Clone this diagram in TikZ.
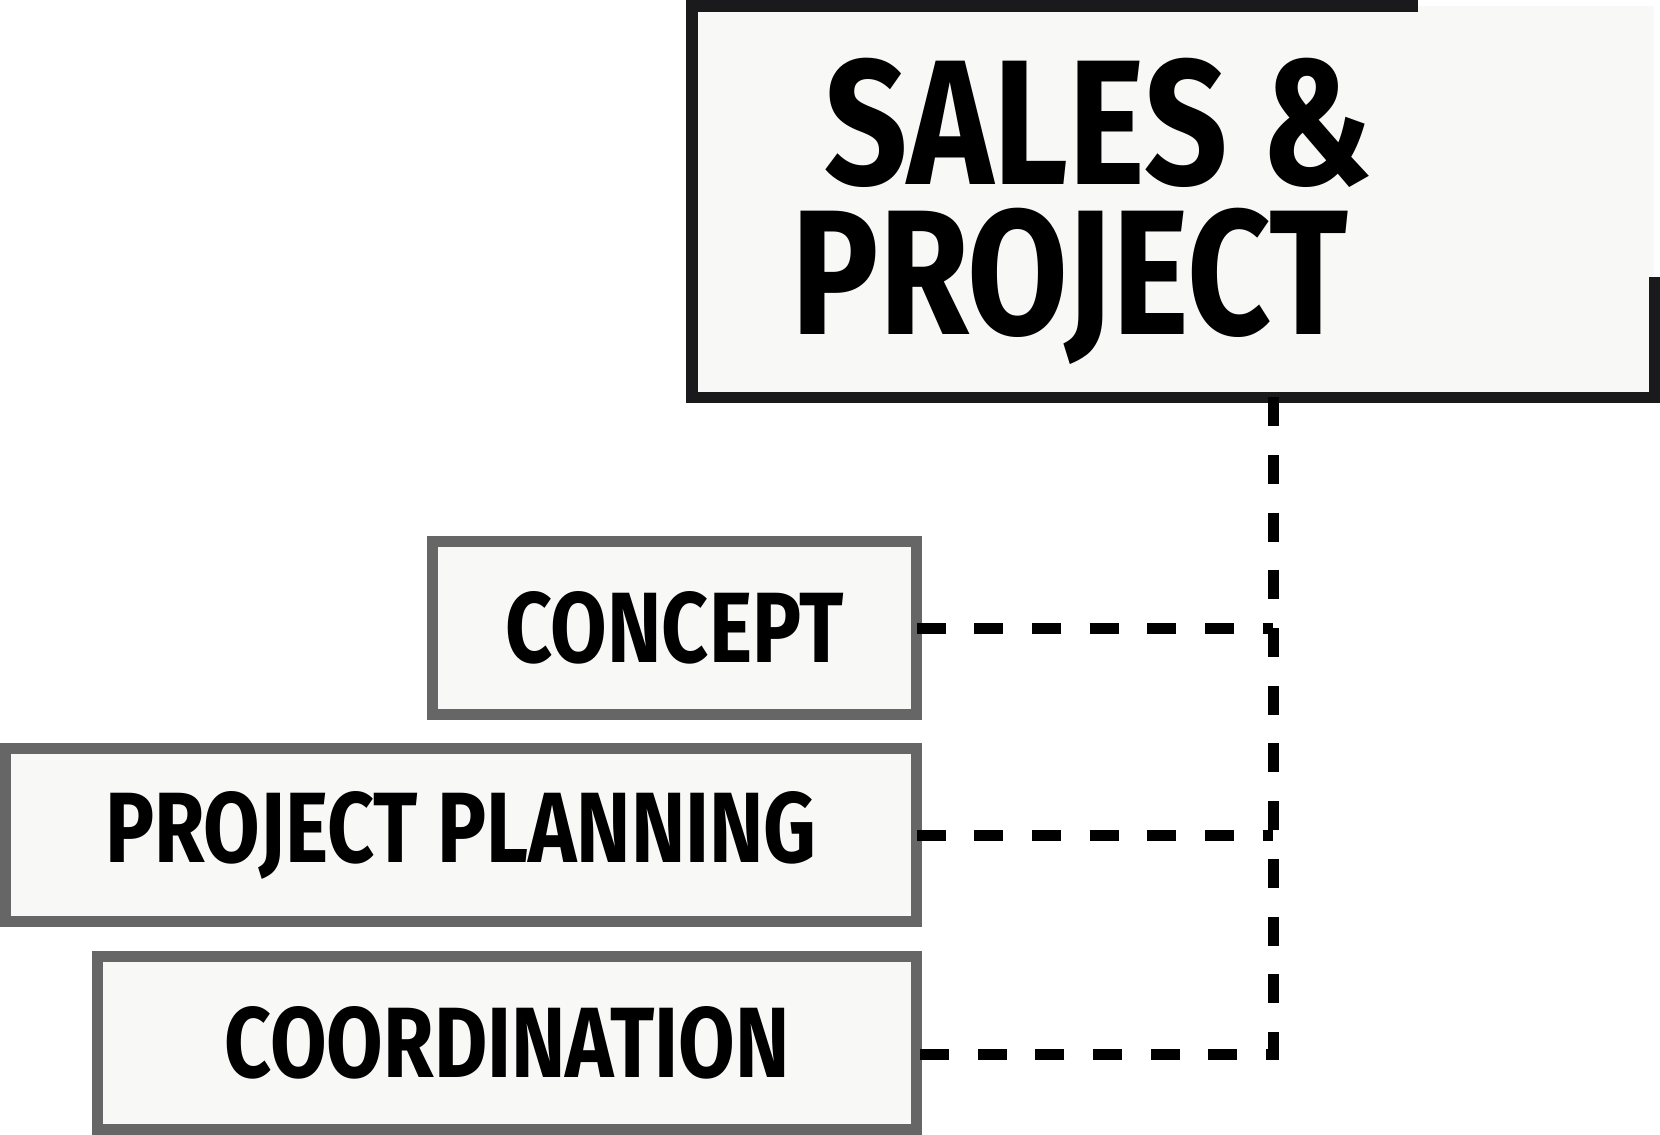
\documentclass[tikz,border=0pt]{standalone}
\definecolor{myframe}{RGB}{26, 26, 28}
\definecolor{mygrey}{RGB}{102, 102, 102}
\definecolor{mypaper}{RGB}{248, 248, 246}
\usepackage{fontspec}
\newfontfamily\boxfont[FakeStretch=0.82]{Fira Sans}
\usepackage{tikz}
\usetikzlibrary{calc}
\tikzset{every picture/.style={line width=0.75pt}}
\tikzset{
  titlebox/.style={fill=mypaper, inner sep=0pt, outer sep=0pt, minimum width=481.25pt, minimum height=195.75pt},
  titleframe/.style={draw=myframe, line width=5.75pt},
  titletext/.style={inner sep=0pt, anchor=base, font=\boxfont\bfseries\fontsize{89}{75}\selectfont},
  stepbox/.style={draw=mygrey, line width=5.5pt, fill=mypaper, inner sep=0pt, outer sep=0pt, minimum height=86.5pt, font=\boxfont\bfseries\fontsize{50}{60}\selectfont},
  link/.style={draw=black, line width=5.5pt, dash pattern=on 14.5pt off 14.35pt}
}

\begin{document}
\begin{tikzpicture}[x=0.5pt,y=0.5pt,yscale=-1,xscale=1]
\useasboundingbox (0,0) rectangle (1660,1135);

%Shape: Rectangle [id:title]
\node [titlebox] (title) at (1173,201.5) {};
%Shape: Open frame round the title
\draw [titleframe] ($(title.north west)!0.755!(title.north east)$) -- (title.north west) -- (title.south west) -- (title.south east) -- ($(title.south east)!0.307!(title.north east)$);
% Text Node
\node [titletext] (sales) at (1099,184) {SALES \&};
% Text Node
\node [titletext] (project) at (1070,334.5) {PROJECT};

%Shape: Rectangle [id:concept]
\node [stepbox, minimum width=242pt] (concept) at (674.5,628) {CONCEPT};
%Shape: Rectangle [id:planning]
\node [stepbox, minimum width=455.5pt] (planning) at (461,835) {PROJECT PLANNING};
%Shape: Rectangle [id:coord]
\node [stepbox, minimum width=409.5pt] (coord) at (507,1043) {COORDINATION};

%Dashed lines
\coordinate (corner) at (1273,1054);
\draw [link] (title.south -| corner) -- (corner) -- (corner -| coord.east);
\draw [link] (concept.east) -- (concept.east -| corner);
\draw [link] (planning.east) -- (planning.east -| corner);

\end{tikzpicture}
\end{document}
